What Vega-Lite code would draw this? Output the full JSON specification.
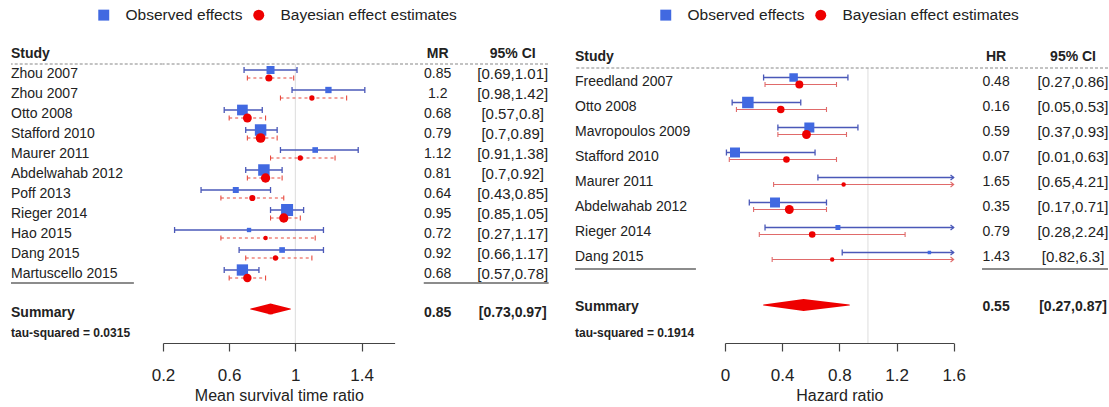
{
  "$schema": "https://vega.github.io/schema/vega-lite/v6.json",
  "padding": {"left": 10, "top": 0, "right": 0, "bottom": 0},
  "bounds": "flush",
  "spacing": 0,
  "resolve": {"scale": {"color": "independent", "shape": "independent", "size": "independent"}},
  "config": {
    "view": {"stroke": null},
    "font": "Liberation Sans",
    "text": {"font": "Liberation Sans", "color": "#222222"},
    "axis": {
      "domainColor": "#444444", "tickColor": "#444444", "domainWidth": 1.2, "tickWidth": 1.2,
      "tickSize": 8, "labelFontSize": 17, "labelColor": "#222222", "labelFont": "Liberation Sans",
      "labelPadding": 16, "titleFontSize": 16, "titleFontWeight": "normal", "titleColor": "#222222",
      "titleFont": "Liberation Sans", "titlePadding": 4, "grid": false, "labelFlush": false, "labelOverlap": false
    },
    "legend": {
      "symbolSize": 120, "labelFontSize": 15.5, "labelFont": "Liberation Sans", "labelColor": "#222222",
      "labelOffset": 14, "columnPadding": 8, "padding": 0, "symbolStrokeWidth": 0, "symbolOpacity": 1, "labelLimit": 0
    }
  },
  "datasets": {
    "mr": [
      {"study": "Zhou 2007", "row": 1, "est": 0.85, "lo": 0.69, "hi": 1.01, "w": 6.4, "best": 0.84, "blo": 0.71, "bhi": 0.99, "bw": 5.0},
      {"study": "Zhou 2007", "row": 2, "est": 1.2, "lo": 0.98, "hi": 1.42, "w": 4.0, "best": 1.10, "blo": 0.91, "bhi": 1.31, "bw": 2.8},
      {"study": "Otto 2008", "row": 3, "est": 0.68, "lo": 0.57, "hi": 0.8, "w": 11.4, "best": 0.71, "blo": 0.60, "bhi": 0.82, "bw": 7.9},
      {"study": "Stafford 2010", "row": 4, "est": 0.79, "lo": 0.7, "hi": 0.89, "w": 13.2, "best": 0.79, "blo": 0.71, "bhi": 0.89, "bw": 9.5},
      {"study": "Maurer 2011", "row": 5, "est": 1.12, "lo": 0.91, "hi": 1.38, "w": 3.2, "best": 1.03, "blo": 0.85, "bhi": 1.24, "bw": 2.8},
      {"study": "Abdelwahab 2012", "row": 6, "est": 0.81, "lo": 0.7, "hi": 0.92, "w": 13.2, "best": 0.82, "blo": 0.71, "bhi": 0.92, "bw": 8.7},
      {"study": "Poff 2013", "row": 7, "est": 0.64, "lo": 0.43, "hi": 0.85, "w": 3.6, "best": 0.74, "blo": 0.55, "bhi": 0.93, "bw": 3.8},
      {"study": "Rieger 2014", "row": 8, "est": 0.95, "lo": 0.85, "hi": 1.05, "w": 14.4, "best": 0.93, "blo": 0.85, "bhi": 1.03, "bw": 8.7},
      {"study": "Hao 2015", "row": 9, "est": 0.72, "lo": 0.27, "hi": 1.17, "w": 1.9, "best": 0.82, "blo": 0.55, "bhi": 1.12, "bw": 2.0},
      {"study": "Dang 2015", "row": 10, "est": 0.92, "lo": 0.66, "hi": 1.17, "w": 3.2, "best": 0.88, "blo": 0.70, "bhi": 1.10, "bw": 2.8},
      {"study": "Martuscello 2015", "row": 11, "est": 0.68, "lo": 0.57, "hi": 0.78, "w": 12.8, "best": 0.71, "blo": 0.60, "bhi": 0.82, "bw": 7.1}
    ],
    "hr": [
      {"study": "Freedland 2007", "row": 1, "est": 0.48, "lo": 0.27, "hi": 0.86, "w": 7.2, "best": 0.52, "blo": 0.28, "bhi": 0.78, "bw": 6.4},
      {"study": "Otto 2008", "row": 2, "est": 0.16, "lo": 0.05, "hi": 0.53, "w": 13.2, "best": 0.39, "blo": 0.08, "bhi": 0.71, "bw": 5.7},
      {"study": "Mavropoulos 2009", "row": 3, "est": 0.59, "lo": 0.37, "hi": 0.93, "w": 10, "best": 0.57, "blo": 0.37, "bhi": 0.85, "bw": 7.9},
      {"study": "Stafford 2010", "row": 4, "est": 0.07, "lo": 0.01, "hi": 0.63, "w": 10, "best": 0.43, "blo": 0.03, "bhi": 0.78, "bw": 4.4},
      {"study": "Maurer 2011", "row": 5, "est": 1.65, "lo": 0.65, "hi": 4.21, "w": 1.6, "best": 0.83, "blo": 0.34, "bhi": 1.9, "bw": 2.0},
      {"study": "Abdelwahab 2012", "row": 6, "est": 0.35, "lo": 0.17, "hi": 0.71, "w": 10, "best": 0.45, "blo": 0.2, "bhi": 0.71, "bw": 7.9},
      {"study": "Rieger 2014", "row": 7, "est": 0.79, "lo": 0.28, "hi": 2.24, "w": 2.5, "best": 0.61, "blo": 0.24, "bhi": 1.26, "bw": 4.4},
      {"study": "Dang 2015", "row": 8, "est": 1.43, "lo": 0.82, "hi": 6.3, "w": 1.2, "best": 0.75, "blo": 0.33, "bhi": 1.75, "bw": 2.0}
    ],
    "mr_sum": [{"est": 0.85, "lo": 0.73, "hi": 0.97, "tau2": 0.0315}],
    "hr_sum": [{"est": 0.55, "lo": 0.27, "hi": 0.87, "tau2": 0.1914}]
  },
  "hconcat": [
    {
      "width": 151.7, "height": 343,
      "layer": [
        {
          "data": {"values": [{}]},
          "mark": {"type": "rule", "color": "#888888", "strokeDash": [3, 2], "strokeWidth": 1.2},
          "encoding": {"y": {"datum": 0.5, "type": "quantitative", "scale": {"domain": [-2.7, 14.45], "reverse": true, "nice": false, "zero": false}, "axis": null}}
        },
        {
          "data": {"values": [{}]},
          "mark": {"type": "rule", "color": "#666666", "strokeWidth": 1.5},
          "encoding": {
            "x": {"datum": 0, "type": "quantitative", "scale": {"domain": [0, 1], "nice": false, "zero": false}, "axis": null},
            "x2": {"datum": 0.81},
            "y": {"datum": 11.45, "type": "quantitative", "scale": {"domain": [-2.7, 14.45], "reverse": true, "nice": false, "zero": false}, "axis": null}
          }
        },
        {
          "data": {"values": [{"label": "Study"}]},
          "mark": {"type": "text", "align": "left", "baseline": "middle", "fontSize": 14, "fontWeight": "bold"},
          "encoding": {
            "x": {"datum": 0, "type": "quantitative", "scale": {"domain": [0, 1], "nice": false, "zero": false}, "axis": null},
            "y": {"datum": 0, "type": "quantitative", "scale": {"domain": [-2.7, 14.45], "reverse": true, "nice": false, "zero": false}, "axis": null},
            "text": {"field": "label"}
          }
        },
        {
          "data": {"name": "mr"},
          "mark": {"type": "text", "align": "left", "baseline": "middle", "fontSize": 14},
          "encoding": {
            "x": {"datum": 0, "type": "quantitative", "scale": {"domain": [0, 1], "nice": false, "zero": false}, "axis": null},
            "y": {"field": "row", "type": "quantitative", "scale": {"domain": [-2.7, 14.45], "reverse": true, "nice": false, "zero": false}, "axis": null},
            "text": {"field": "study"}
          }
        },
        {
          "data": {"name": "mr_sum"},
          "mark": {"type": "text", "align": "left", "baseline": "middle", "fontSize": 14, "fontWeight": "bold"},
          "encoding": {
            "x": {"datum": 0, "type": "quantitative", "scale": {"domain": [0, 1], "nice": false, "zero": false}, "axis": null},
            "y": {"datum": 12.95, "type": "quantitative", "scale": {"domain": [-2.7, 14.45], "reverse": true, "nice": false, "zero": false}, "axis": null},
            "text": {"value": "Summary"}
          }
        },
        {
          "data": {"name": "mr_sum"},
          "transform": [{"calculate": "'tau-squared = ' + datum.tau2", "as": "tau_label"}],
          "mark": {"type": "text", "align": "left", "baseline": "middle", "fontSize": 12, "fontWeight": "bold"},
          "encoding": {
            "x": {"datum": 0, "type": "quantitative", "scale": {"domain": [0, 1], "nice": false, "zero": false}, "axis": null},
            "y": {"datum": 13.95, "type": "quantitative", "scale": {"domain": [-2.7, 14.45], "reverse": true, "nice": false, "zero": false}, "axis": null},
            "text": {"field": "tau_label"}
          }
        }
      ]
    },
    {
      "width": 231.6, "height": 343,
      "layer": [
        {
          "data": {"values": [{}]},
          "mark": {"type": "rule", "color": "#dddddd", "strokeWidth": 1},
          "encoding": {
            "x": {"datum": 1, "type": "quantitative", "scale": {"domain": [0.2, 1.6], "nice": false, "zero": false}},
            "y": {"datum": 0.5, "type": "quantitative", "scale": {"domain": [-2.7, 14.45], "reverse": true, "nice": false, "zero": false}, "axis": null},
            "y2": {"datum": 14.45}
          }
        },
        {
          "data": {"values": [{}]},
          "mark": {"type": "rule", "color": "#888888", "strokeDash": [3, 2], "strokeWidth": 1.2},
          "encoding": {"y": {"datum": 0.5, "type": "quantitative", "scale": {"domain": [-2.7, 14.45], "reverse": true, "nice": false, "zero": false}, "axis": null}}
        },
        {
          "data": {"name": "mr"},
          "mark": {"type": "rule", "color": "#4a58b8", "strokeWidth": 1.3, "yOffset": -4},
          "encoding": {
            "x": {"field": "lo", "type": "quantitative", "scale": {"domain": [0.2, 1.6], "nice": false, "zero": false}, "title": "Mean survival time ratio",
                  "axis": {"values": [0.2, 0.4, 0.6, 0.8, 1, 1.2, 1.4, 1.6], "format": "~g", "labelExpr": "indexof(['0.2','0.6','1','1.4'], datum.label) >= 0 ? datum.label : ''"}},
            "x2": {"field": "hi"},
            "y": {"field": "row", "type": "quantitative", "scale": {"domain": [-2.7, 14.45], "reverse": true, "nice": false, "zero": false}, "axis": null}
          }
        },
        {
          "data": {"name": "mr"},
          "mark": {"type": "point", "shape": "M0,-1L0,1", "filled": false, "color": "#4a58b8", "strokeWidth": 1.3, "size": 36, "opacity": 1, "yOffset": -4},
          "encoding": {
            "x": {"field": "lo", "type": "quantitative", "scale": {"domain": [0.2, 1.6], "nice": false, "zero": false}, "title": "Mean survival time ratio"},
            "y": {"field": "row", "type": "quantitative", "scale": {"domain": [-2.7, 14.45], "reverse": true, "nice": false, "zero": false}, "axis": null}
          }
        },
        {
          "data": {"name": "mr"},
          "mark": {"type": "point", "shape": "M0,-1L0,1", "filled": false, "color": "#4a58b8", "strokeWidth": 1.3, "size": 36, "opacity": 1, "yOffset": -4},
          "encoding": {
            "x": {"field": "hi", "type": "quantitative", "scale": {"domain": [0.2, 1.6], "nice": false, "zero": false}, "title": "Mean survival time ratio"},
            "y": {"field": "row", "type": "quantitative", "scale": {"domain": [-2.7, 14.45], "reverse": true, "nice": false, "zero": false}, "axis": null}
          }
        },
        {
          "data": {"name": "mr"},
          "mark": {"type": "rule", "color": "#e8493d", "strokeWidth": 1.1, "strokeDash": [3, 3], "yOffset": 4},
          "encoding": {
            "x": {"field": "blo", "type": "quantitative", "scale": {"domain": [0.2, 1.6], "nice": false, "zero": false}, "title": "Mean survival time ratio"},
            "x2": {"field": "bhi"},
            "y": {"field": "row", "type": "quantitative", "scale": {"domain": [-2.7, 14.45], "reverse": true, "nice": false, "zero": false}, "axis": null}
          }
        },
        {
          "data": {"name": "mr"},
          "mark": {"type": "point", "shape": "M0,-1L0,1", "filled": false, "color": "#e8493d", "strokeWidth": 1.1, "size": 25, "opacity": 1, "yOffset": 4},
          "encoding": {
            "x": {"field": "blo", "type": "quantitative", "scale": {"domain": [0.2, 1.6], "nice": false, "zero": false}, "title": "Mean survival time ratio"},
            "y": {"field": "row", "type": "quantitative", "scale": {"domain": [-2.7, 14.45], "reverse": true, "nice": false, "zero": false}, "axis": null}
          }
        },
        {
          "data": {"name": "mr"},
          "mark": {"type": "point", "shape": "M0,-1L0,1", "filled": false, "color": "#e8493d", "strokeWidth": 1.1, "size": 25, "opacity": 1, "yOffset": 4},
          "encoding": {
            "x": {"field": "bhi", "type": "quantitative", "scale": {"domain": [0.2, 1.6], "nice": false, "zero": false}, "title": "Mean survival time ratio"},
            "y": {"field": "row", "type": "quantitative", "scale": {"domain": [-2.7, 14.45], "reverse": true, "nice": false, "zero": false}, "axis": null}
          }
        },
        {
          "data": {"name": "mr"},
          "mark": {"type": "point", "filled": true, "opacity": 1, "yOffset": -4},
          "encoding": {
            "x": {"field": "est", "type": "quantitative", "scale": {"domain": [0.2, 1.6], "nice": false, "zero": false}, "title": "Mean survival time ratio"},
            "y": {"field": "row", "type": "quantitative", "scale": {"domain": [-2.7, 14.45], "reverse": true, "nice": false, "zero": false}, "axis": null},
            "color": {"datum": "Observed effects", "type": "nominal", "scale": {"domain": ["Observed effects", "Bayesian effect estimates"], "range": ["#4169e1", "#ee0000"]}, "legend": {"title": null, "orient": "none", "legendX": -67, "legendY": 7, "direction": "horizontal"}},
            "shape": {"datum": "Observed effects", "type": "nominal", "scale": {"domain": ["Observed effects", "Bayesian effect estimates"], "range": ["square", "circle"]}, "legend": {"title": null, "orient": "none", "legendX": -67, "legendY": 7, "direction": "horizontal"}},
            "size": {"field": "w", "type": "quantitative", "scale": {"domain": [0, 15], "range": [0, 150], "zero": true}, "legend": null}
          }
        },
        {
          "data": {"name": "mr"},
          "mark": {"type": "point", "filled": true, "opacity": 1, "yOffset": 4},
          "encoding": {
            "x": {"field": "best", "type": "quantitative", "scale": {"domain": [0.2, 1.6], "nice": false, "zero": false}, "title": "Mean survival time ratio"},
            "y": {"field": "row", "type": "quantitative", "scale": {"domain": [-2.7, 14.45], "reverse": true, "nice": false, "zero": false}, "axis": null},
            "color": {"datum": "Bayesian effect estimates", "type": "nominal", "scale": {"domain": ["Observed effects", "Bayesian effect estimates"], "range": ["#4169e1", "#ee0000"]}, "legend": {"title": null, "orient": "none", "legendX": -67, "legendY": 7, "direction": "horizontal"}},
            "shape": {"datum": "Bayesian effect estimates", "type": "nominal", "scale": {"domain": ["Observed effects", "Bayesian effect estimates"], "range": ["square", "circle"]}, "legend": {"title": null, "orient": "none", "legendX": -67, "legendY": 7, "direction": "horizontal"}},
            "size": {"field": "bw", "type": "quantitative", "scale": {"domain": [0, 15], "range": [0, 150], "zero": true}, "legend": null}
          }
        },
        {
          "data": {"name": "mr_sum"},
          "transform": [{"fold": ["lo", "est", "hi"], "as": ["key", "value"]}],
          "mark": {"type": "trail", "color": "#ee0000", "yOffset": -4},
          "encoding": {
            "x": {"field": "value", "type": "quantitative", "scale": {"domain": [0.2, 1.6], "nice": false, "zero": false}, "title": "Mean survival time ratio"},
            "y": {"datum": 12.95, "type": "quantitative", "scale": {"domain": [-2.7, 14.45], "reverse": true, "nice": false, "zero": false}, "axis": null},
            "size": {"condition": {"test": "datum.key === 'est'", "value": 11}, "value": 0},
            "order": {"field": "value", "type": "quantitative"}
          }
        }
      ]
    },
    {
      "width": 179.7, "height": 343,
      "layer": [
        {
          "data": {"values": [{}]},
          "mark": {"type": "rule", "color": "#888888", "strokeDash": [3, 2], "strokeWidth": 1.2},
          "encoding": {
            "x": {"datum": 0, "type": "quantitative", "scale": {"domain": [0, 1], "nice": false, "zero": false}, "axis": null},
            "x2": {"datum": 0.855},
            "y": {"datum": 0.5, "type": "quantitative", "scale": {"domain": [-2.7, 14.45], "reverse": true, "nice": false, "zero": false}, "axis": null}
          }
        },
        {
          "data": {"values": [{}]},
          "mark": {"type": "rule", "color": "#666666", "strokeWidth": 1.5},
          "encoding": {
            "x": {"datum": 0.16, "type": "quantitative", "scale": {"domain": [0, 1], "nice": false, "zero": false}, "axis": null},
            "x2": {"datum": 0.855},
            "y": {"datum": 11.45, "type": "quantitative", "scale": {"domain": [-2.7, 14.45], "reverse": true, "nice": false, "zero": false}, "axis": null}
          }
        },
        {
          "data": {"values": [{"label": "MR"}]},
          "mark": {"type": "text", "align": "center", "baseline": "middle", "fontSize": 14, "fontWeight": "bold"},
          "encoding": {
            "x": {"datum": 0.2376, "type": "quantitative", "scale": {"domain": [0, 1], "nice": false, "zero": false}, "axis": null},
            "y": {"datum": 0, "type": "quantitative", "scale": {"domain": [-2.7, 14.45], "reverse": true, "nice": false, "zero": false}, "axis": null},
            "text": {"field": "label"}
          }
        },
        {
          "data": {"values": [{"label": "95% CI"}]},
          "mark": {"type": "text", "align": "center", "baseline": "middle", "fontSize": 14, "fontWeight": "bold"},
          "encoding": {
            "x": {"datum": 0.655, "type": "quantitative", "scale": {"domain": [0, 1], "nice": false, "zero": false}, "axis": null},
            "y": {"datum": 0, "type": "quantitative", "scale": {"domain": [-2.7, 14.45], "reverse": true, "nice": false, "zero": false}, "axis": null},
            "text": {"field": "label"}
          }
        },
        {
          "data": {"name": "mr"},
          "mark": {"type": "text", "align": "center", "baseline": "middle", "fontSize": 14},
          "encoding": {
            "x": {"datum": 0.2376, "type": "quantitative", "scale": {"domain": [0, 1], "nice": false, "zero": false}, "axis": null},
            "y": {"field": "row", "type": "quantitative", "scale": {"domain": [-2.7, 14.45], "reverse": true, "nice": false, "zero": false}, "axis": null},
            "text": {"field": "est", "type": "nominal"}
          }
        },
        {
          "data": {"name": "mr"},
          "transform": [{"calculate": "'[' + datum.lo + ',' + datum.hi + ']'", "as": "ci"}],
          "mark": {"type": "text", "align": "center", "baseline": "middle", "fontSize": 15},
          "encoding": {
            "x": {"datum": 0.655, "type": "quantitative", "scale": {"domain": [0, 1], "nice": false, "zero": false}, "axis": null},
            "y": {"field": "row", "type": "quantitative", "scale": {"domain": [-2.7, 14.45], "reverse": true, "nice": false, "zero": false}, "axis": null},
            "text": {"field": "ci"}
          }
        },
        {
          "data": {"name": "mr_sum"},
          "mark": {"type": "text", "align": "center", "baseline": "middle", "fontSize": 14, "fontWeight": "bold"},
          "encoding": {
            "x": {"datum": 0.2376, "type": "quantitative", "scale": {"domain": [0, 1], "nice": false, "zero": false}, "axis": null},
            "y": {"datum": 12.95, "type": "quantitative", "scale": {"domain": [-2.7, 14.45], "reverse": true, "nice": false, "zero": false}, "axis": null},
            "text": {"field": "est", "type": "nominal"}
          }
        },
        {
          "data": {"name": "mr_sum"},
          "transform": [{"calculate": "'[' + datum.lo + ',' + datum.hi + ']'", "as": "ci"}],
          "mark": {"type": "text", "align": "center", "baseline": "middle", "fontSize": 14, "fontWeight": "bold"},
          "encoding": {
            "x": {"datum": 0.655, "type": "quantitative", "scale": {"domain": [0, 1], "nice": false, "zero": false}, "axis": null},
            "y": {"datum": 12.95, "type": "quantitative", "scale": {"domain": [-2.7, 14.45], "reverse": true, "nice": false, "zero": false}, "axis": null},
            "text": {"field": "ci"}
          }
        }
      ]
    },
    {
      "width": 149.3, "height": 343,
      "layer": [
        {
          "data": {"values": [{}]},
          "mark": {"type": "rule", "color": "#888888", "strokeDash": [3, 2], "strokeWidth": 1.2},
          "encoding": {"y": {"datum": 0.46, "type": "quantitative", "scale": {"domain": [-2.26, 11.46], "reverse": true, "nice": false, "zero": false}, "axis": null}}
        },
        {
          "data": {"values": [{}]},
          "mark": {"type": "rule", "color": "#666666", "strokeWidth": 1.5},
          "encoding": {
            "x": {"datum": 0, "type": "quantitative", "scale": {"domain": [0, 1], "nice": false, "zero": false}, "axis": null},
            "x2": {"datum": 0.81},
            "y": {"datum": 8.5, "type": "quantitative", "scale": {"domain": [-2.26, 11.46], "reverse": true, "nice": false, "zero": false}, "axis": null}
          }
        },
        {
          "data": {"values": [{"label": "Study"}]},
          "mark": {"type": "text", "align": "left", "baseline": "middle", "fontSize": 14, "fontWeight": "bold"},
          "encoding": {
            "x": {"datum": 0, "type": "quantitative", "scale": {"domain": [0, 1], "nice": false, "zero": false}, "axis": null},
            "y": {"datum": 0, "type": "quantitative", "scale": {"domain": [-2.26, 11.46], "reverse": true, "nice": false, "zero": false}, "axis": null},
            "text": {"field": "label"}
          }
        },
        {
          "data": {"name": "hr"},
          "mark": {"type": "text", "align": "left", "baseline": "middle", "fontSize": 14},
          "encoding": {
            "x": {"datum": 0, "type": "quantitative", "scale": {"domain": [0, 1], "nice": false, "zero": false}, "axis": null},
            "y": {"field": "row", "type": "quantitative", "scale": {"domain": [-2.26, 11.46], "reverse": true, "nice": false, "zero": false}, "axis": null},
            "text": {"field": "study"}
          }
        },
        {
          "data": {"name": "hr_sum"},
          "mark": {"type": "text", "align": "left", "baseline": "middle", "fontSize": 14, "fontWeight": "bold"},
          "encoding": {
            "x": {"datum": 0, "type": "quantitative", "scale": {"domain": [0, 1], "nice": false, "zero": false}, "axis": null},
            "y": {"datum": 10, "type": "quantitative", "scale": {"domain": [-2.26, 11.46], "reverse": true, "nice": false, "zero": false}, "axis": null},
            "text": {"value": "Summary"}
          }
        },
        {
          "data": {"name": "hr_sum"},
          "transform": [{"calculate": "'tau-squared = ' + datum.tau2", "as": "tau_label"}],
          "mark": {"type": "text", "align": "left", "baseline": "middle", "fontSize": 12, "fontWeight": "bold"},
          "encoding": {
            "x": {"datum": 0, "type": "quantitative", "scale": {"domain": [0, 1], "nice": false, "zero": false}, "axis": null},
            "y": {"datum": 11.05, "type": "quantitative", "scale": {"domain": [-2.26, 11.46], "reverse": true, "nice": false, "zero": false}, "axis": null},
            "text": {"field": "tau_label"}
          }
        }
      ]
    },
    {
      "width": 228.7, "height": 343,
      "layer": [
        {
          "data": {"values": [{}]},
          "mark": {"type": "rule", "color": "#dddddd", "strokeWidth": 1},
          "encoding": {
            "x": {"datum": 1, "type": "quantitative", "scale": {"domain": [0, 1.6], "nice": false, "zero": false, "clamp": true}},
            "y": {"datum": 0.46, "type": "quantitative", "scale": {"domain": [-2.26, 11.46], "reverse": true, "nice": false, "zero": false}, "axis": null},
            "y2": {"datum": 11.46}
          }
        },
        {
          "data": {"values": [{}]},
          "mark": {"type": "rule", "color": "#888888", "strokeDash": [3, 2], "strokeWidth": 1.2},
          "encoding": {"y": {"datum": 0.46, "type": "quantitative", "scale": {"domain": [-2.26, 11.46], "reverse": true, "nice": false, "zero": false}, "axis": null}}
        },
        {
          "data": {"name": "hr"},
          "mark": {"type": "rule", "color": "#4a58b8", "strokeWidth": 1.3, "yOffset": -4},
          "encoding": {
            "x": {"field": "lo", "type": "quantitative", "scale": {"domain": [0, 1.6], "nice": false, "zero": false, "clamp": true}, "title": "Hazard ratio",
                  "axis": {"values": [0, 0.2, 0.4, 0.6, 0.8, 1, 1.2, 1.4, 1.6], "format": "~g", "labelExpr": "indexof(['0','0.4','0.8','1.2','1.6'], datum.label) >= 0 ? datum.label : ''"}},
            "x2": {"field": "hi"},
            "y": {"field": "row", "type": "quantitative", "scale": {"domain": [-2.26, 11.46], "reverse": true, "nice": false, "zero": false}, "axis": null}
          }
        },
        {
          "data": {"name": "hr"},
          "mark": {"type": "point", "shape": "M0,-1L0,1", "filled": false, "color": "#4a58b8", "strokeWidth": 1.3, "size": 36, "opacity": 1, "yOffset": -4},
          "encoding": {
            "x": {"field": "lo", "type": "quantitative", "scale": {"domain": [0, 1.6], "nice": false, "zero": false, "clamp": true}, "title": "Hazard ratio"},
            "y": {"field": "row", "type": "quantitative", "scale": {"domain": [-2.26, 11.46], "reverse": true, "nice": false, "zero": false}, "axis": null}
          }
        },
        {
          "data": {"name": "hr"},
          "transform": [{"filter": "datum.hi <= 1.6"}],
          "mark": {"type": "point", "shape": "M0,-1L0,1", "filled": false, "color": "#4a58b8", "strokeWidth": 1.3, "size": 36, "opacity": 1, "yOffset": -4},
          "encoding": {
            "x": {"field": "hi", "type": "quantitative", "scale": {"domain": [0, 1.6], "nice": false, "zero": false, "clamp": true}, "title": "Hazard ratio"},
            "y": {"field": "row", "type": "quantitative", "scale": {"domain": [-2.26, 11.46], "reverse": true, "nice": false, "zero": false}, "axis": null}
          }
        },
        {
          "data": {"name": "hr"},
          "transform": [{"filter": "datum.hi > 1.6"}],
          "mark": {"type": "point", "shape": "M-1,-0.8L0,0L-1,0.8", "filled": false, "color": "#4a58b8", "strokeWidth": 1.3, "size": 40, "opacity": 1, "yOffset": -4},
          "encoding": {
            "x": {"field": "hi", "type": "quantitative", "scale": {"domain": [0, 1.6], "nice": false, "zero": false, "clamp": true}, "title": "Hazard ratio"},
            "y": {"field": "row", "type": "quantitative", "scale": {"domain": [-2.26, 11.46], "reverse": true, "nice": false, "zero": false}, "axis": null}
          }
        },
        {
          "data": {"name": "hr"},
          "mark": {"type": "rule", "color": "#e06a6a", "strokeWidth": 1.1, "yOffset": 3},
          "encoding": {
            "x": {"field": "blo", "type": "quantitative", "scale": {"domain": [0, 1.6], "nice": false, "zero": false, "clamp": true}, "title": "Hazard ratio"},
            "x2": {"field": "bhi"},
            "y": {"field": "row", "type": "quantitative", "scale": {"domain": [-2.26, 11.46], "reverse": true, "nice": false, "zero": false}, "axis": null}
          }
        },
        {
          "data": {"name": "hr"},
          "mark": {"type": "point", "shape": "M0,-1L0,1", "filled": false, "color": "#e06a6a", "strokeWidth": 1.1, "size": 25, "opacity": 1, "yOffset": 3},
          "encoding": {
            "x": {"field": "blo", "type": "quantitative", "scale": {"domain": [0, 1.6], "nice": false, "zero": false, "clamp": true}, "title": "Hazard ratio"},
            "y": {"field": "row", "type": "quantitative", "scale": {"domain": [-2.26, 11.46], "reverse": true, "nice": false, "zero": false}, "axis": null}
          }
        },
        {
          "data": {"name": "hr"},
          "transform": [{"filter": "datum.bhi <= 1.6"}],
          "mark": {"type": "point", "shape": "M0,-1L0,1", "filled": false, "color": "#e06a6a", "strokeWidth": 1.1, "size": 25, "opacity": 1, "yOffset": 3},
          "encoding": {
            "x": {"field": "bhi", "type": "quantitative", "scale": {"domain": [0, 1.6], "nice": false, "zero": false, "clamp": true}, "title": "Hazard ratio"},
            "y": {"field": "row", "type": "quantitative", "scale": {"domain": [-2.26, 11.46], "reverse": true, "nice": false, "zero": false}, "axis": null}
          }
        },
        {
          "data": {"name": "hr"},
          "transform": [{"filter": "datum.bhi > 1.6"}],
          "mark": {"type": "point", "shape": "M-1,-0.8L0,0L-1,0.8", "filled": false, "color": "#e06a6a", "strokeWidth": 1.1, "size": 40, "opacity": 1, "yOffset": 3},
          "encoding": {
            "x": {"field": "bhi", "type": "quantitative", "scale": {"domain": [0, 1.6], "nice": false, "zero": false, "clamp": true}, "title": "Hazard ratio"},
            "y": {"field": "row", "type": "quantitative", "scale": {"domain": [-2.26, 11.46], "reverse": true, "nice": false, "zero": false}, "axis": null}
          }
        },
        {
          "data": {"name": "hr"},
          "transform": [{"filter": "datum.est <= 1.6"}],
          "mark": {"type": "point", "filled": true, "opacity": 1, "yOffset": -4},
          "encoding": {
            "x": {"field": "est", "type": "quantitative", "scale": {"domain": [0, 1.6], "nice": false, "zero": false, "clamp": true}, "title": "Hazard ratio"},
            "y": {"field": "row", "type": "quantitative", "scale": {"domain": [-2.26, 11.46], "reverse": true, "nice": false, "zero": false}, "axis": null},
            "color": {"datum": "Observed effects", "type": "nominal", "scale": {"domain": ["Observed effects", "Bayesian effect estimates"], "range": ["#4169e1", "#ee0000"]}, "legend": {"title": null, "orient": "none", "legendX": -67, "legendY": 7, "direction": "horizontal"}},
            "shape": {"datum": "Observed effects", "type": "nominal", "scale": {"domain": ["Observed effects", "Bayesian effect estimates"], "range": ["square", "circle"]}, "legend": {"title": null, "orient": "none", "legendX": -67, "legendY": 7, "direction": "horizontal"}},
            "size": {"field": "w", "type": "quantitative", "scale": {"domain": [0, 15], "range": [0, 150], "zero": true}, "legend": null}
          }
        },
        {
          "data": {"name": "hr"},
          "mark": {"type": "point", "filled": true, "opacity": 1, "yOffset": 3},
          "encoding": {
            "x": {"field": "best", "type": "quantitative", "scale": {"domain": [0, 1.6], "nice": false, "zero": false, "clamp": true}, "title": "Hazard ratio"},
            "y": {"field": "row", "type": "quantitative", "scale": {"domain": [-2.26, 11.46], "reverse": true, "nice": false, "zero": false}, "axis": null},
            "color": {"datum": "Bayesian effect estimates", "type": "nominal", "scale": {"domain": ["Observed effects", "Bayesian effect estimates"], "range": ["#4169e1", "#ee0000"]}, "legend": {"title": null, "orient": "none", "legendX": -67, "legendY": 7, "direction": "horizontal"}},
            "shape": {"datum": "Bayesian effect estimates", "type": "nominal", "scale": {"domain": ["Observed effects", "Bayesian effect estimates"], "range": ["square", "circle"]}, "legend": {"title": null, "orient": "none", "legendX": -67, "legendY": 7, "direction": "horizontal"}},
            "size": {"field": "bw", "type": "quantitative", "scale": {"domain": [0, 15], "range": [0, 150], "zero": true}, "legend": null}
          }
        },
        {
          "data": {"name": "hr_sum"},
          "transform": [{"fold": ["lo", "est", "hi"], "as": ["key", "value"]}],
          "mark": {"type": "trail", "color": "#ee0000", "yOffset": -1.5},
          "encoding": {
            "x": {"field": "value", "type": "quantitative", "scale": {"domain": [0, 1.6], "nice": false, "zero": false, "clamp": true}, "title": "Hazard ratio"},
            "y": {"datum": 10, "type": "quantitative", "scale": {"domain": [-2.26, 11.46], "reverse": true, "nice": false, "zero": false}, "axis": null},
            "size": {"condition": {"test": "datum.key === 'est'", "value": 12}, "value": 0},
            "order": {"field": "value", "type": "quantitative"}
          }
        }
      ]
    },
    {
      "width": 154, "height": 343,
      "layer": [
        {
          "data": {"values": [{}]},
          "mark": {"type": "rule", "color": "#888888", "strokeDash": [3, 2], "strokeWidth": 1.2},
          "encoding": {"y": {"datum": 0.46, "type": "quantitative", "scale": {"domain": [-2.26, 11.46], "reverse": true, "nice": false, "zero": false}, "axis": null}}
        },
        {
          "data": {"values": [{}]},
          "mark": {"type": "rule", "color": "#666666", "strokeWidth": 1.5},
          "encoding": {
            "x": {"datum": 0.182, "type": "quantitative", "scale": {"domain": [0, 1], "nice": false, "zero": false}, "axis": null},
            "x2": {"datum": 1},
            "y": {"datum": 8.5, "type": "quantitative", "scale": {"domain": [-2.26, 11.46], "reverse": true, "nice": false, "zero": false}, "axis": null}
          }
        },
        {
          "data": {"values": [{"label": "HR"}]},
          "mark": {"type": "text", "align": "center", "baseline": "middle", "fontSize": 14, "fontWeight": "bold"},
          "encoding": {
            "x": {"datum": 0.273, "type": "quantitative", "scale": {"domain": [0, 1], "nice": false, "zero": false}, "axis": null},
            "y": {"datum": 0, "type": "quantitative", "scale": {"domain": [-2.26, 11.46], "reverse": true, "nice": false, "zero": false}, "axis": null},
            "text": {"field": "label"}
          }
        },
        {
          "data": {"values": [{"label": "95% CI"}]},
          "mark": {"type": "text", "align": "center", "baseline": "middle", "fontSize": 14, "fontWeight": "bold"},
          "encoding": {
            "x": {"datum": 0.773, "type": "quantitative", "scale": {"domain": [0, 1], "nice": false, "zero": false}, "axis": null},
            "y": {"datum": 0, "type": "quantitative", "scale": {"domain": [-2.26, 11.46], "reverse": true, "nice": false, "zero": false}, "axis": null},
            "text": {"field": "label"}
          }
        },
        {
          "data": {"name": "hr"},
          "mark": {"type": "text", "align": "center", "baseline": "middle", "fontSize": 14},
          "encoding": {
            "x": {"datum": 0.273, "type": "quantitative", "scale": {"domain": [0, 1], "nice": false, "zero": false}, "axis": null},
            "y": {"field": "row", "type": "quantitative", "scale": {"domain": [-2.26, 11.46], "reverse": true, "nice": false, "zero": false}, "axis": null},
            "text": {"field": "est", "type": "nominal"}
          }
        },
        {
          "data": {"name": "hr"},
          "transform": [{"calculate": "'[' + datum.lo + ',' + datum.hi + ']'", "as": "ci"}],
          "mark": {"type": "text", "align": "center", "baseline": "middle", "fontSize": 15},
          "encoding": {
            "x": {"datum": 0.773, "type": "quantitative", "scale": {"domain": [0, 1], "nice": false, "zero": false}, "axis": null},
            "y": {"field": "row", "type": "quantitative", "scale": {"domain": [-2.26, 11.46], "reverse": true, "nice": false, "zero": false}, "axis": null},
            "text": {"field": "ci"}
          }
        },
        {
          "data": {"name": "hr_sum"},
          "mark": {"type": "text", "align": "center", "baseline": "middle", "fontSize": 14, "fontWeight": "bold"},
          "encoding": {
            "x": {"datum": 0.273, "type": "quantitative", "scale": {"domain": [0, 1], "nice": false, "zero": false}, "axis": null},
            "y": {"datum": 10, "type": "quantitative", "scale": {"domain": [-2.26, 11.46], "reverse": true, "nice": false, "zero": false}, "axis": null},
            "text": {"field": "est", "type": "nominal"}
          }
        },
        {
          "data": {"name": "hr_sum"},
          "transform": [{"calculate": "'[' + datum.lo + ',' + datum.hi + ']'", "as": "ci"}],
          "mark": {"type": "text", "align": "center", "baseline": "middle", "fontSize": 14, "fontWeight": "bold"},
          "encoding": {
            "x": {"datum": 0.773, "type": "quantitative", "scale": {"domain": [0, 1], "nice": false, "zero": false}, "axis": null},
            "y": {"datum": 10, "type": "quantitative", "scale": {"domain": [-2.26, 11.46], "reverse": true, "nice": false, "zero": false}, "axis": null},
            "text": {"field": "ci"}
          }
        }
      ]
    }
  ]
}
